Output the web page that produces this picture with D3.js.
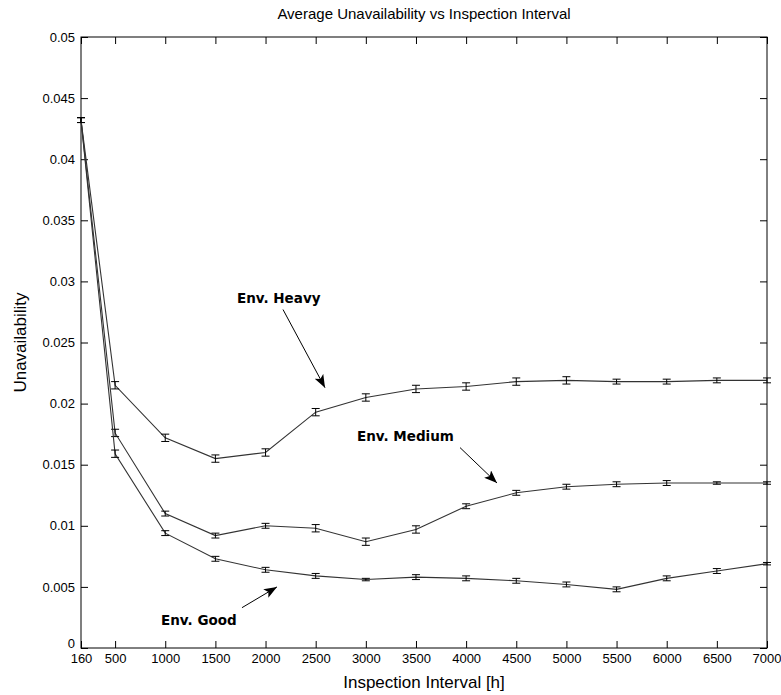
<!DOCTYPE html>
<html>
<head>
<meta charset="utf-8">
<script src="https://cdn.jsdelivr.net/npm/d3@7"></script>
<style>
  body { margin: 0; background: #fff; }
  text { font-family: "Liberation Sans", Arial, sans-serif; }
  .annot { font-family: "DejaVu Sans", Verdana, sans-serif; font-size: 13.5px; font-weight: bold; }
</style>
</head>
<body>
<svg id="chart"></svg>
<script>
let w = 781;
let h = 695;

// inspection intervals [h]
let intervals = [160, 500, 1000, 1500, 2000, 2500, 3000, 3500, 4000, 4500, 5000, 5500, 6000, 6500, 7000];

let heavy = [0.0432, 0.0215, 0.0172, 0.0155, 0.0160, 0.0193, 0.0205, 0.0212, 0.0214, 0.0218, 0.0219, 0.0218, 0.0218, 0.0219, 0.0219];
let heavyErr = [0.0002, 0.0003, 0.0003, 0.0003, 0.0003, 0.0003, 0.0003, 0.0003, 0.0003, 0.0003, 0.0003, 0.0002, 0.0002, 0.0002, 0.0002];

let medium = [0.0432, 0.0176, 0.0110, 0.0092, 0.0100, 0.0098, 0.0087, 0.0097, 0.0116, 0.0127, 0.0132, 0.0134, 0.0135, 0.0135, 0.0135];
let mediumErr = [0.0002, 0.0003, 0.0002, 0.0002, 0.0002, 0.0003, 0.0003, 0.0003, 0.0002, 0.0002, 0.0002, 0.0002, 0.0002, 0.0001, 0.0001];

let good = [0.0432, 0.0159, 0.0094, 0.0073, 0.0064, 0.0059, 0.0056, 0.0058, 0.0057, 0.0055, 0.0052, 0.0048, 0.0057, 0.0063, 0.0069];
let goodErr = [0.0002, 0.0003, 0.0002, 0.0002, 0.0002, 0.0002, 0.0001, 0.0002, 0.0002, 0.0002, 0.0002, 0.0002, 0.0002, 0.0002, 0.0001];

let xTicks = [160, 500, 1000, 1500, 2000, 2500, 3000, 3500, 4000, 4500, 5000, 5500, 6000, 6500, 7000];
let yTicks = [0, 0.005, 0.01, 0.015, 0.02, 0.025, 0.03, 0.035, 0.04, 0.045, 0.05];
let yTickLabels = ["0", "0.005", "0.01", "0.015", "0.02", "0.025", "0.03", "0.035", "0.04", "0.045", "0.05"];

// annotation labels, placed in data coordinates
let annotations = [
  { label: "Env. Heavy", text: [1715, 0.0282], tail: [2174, 0.0277], tip: [2593, 0.0213] },
  { label: "Env. Medium", text: [2912, 0.0169], tail: [3939, 0.0164], tip: [4308, 0.0135] },
  { label: "Env. Good", text: [958, 0.0019], tail: [1765, 0.0033], tip: [2114, 0.0050] }
];

let mLeft = 81, mRight = 767, mTop = 37, mBottom = 648;

let svg = d3.select("#chart").attr("width", w).attr("height", h);

let x = d3.scaleLinear().domain([160, 7000]).range([mLeft, mRight]);
let y = d3.scaleLinear().domain([0, 0.05]).range([mBottom, mTop]);

// frame
svg.append("rect")
  .attr("x", mLeft).attr("y", mTop)
  .attr("width", mRight - mLeft).attr("height", mBottom - mTop)
  .attr("fill", "none").attr("stroke", "#000").attr("stroke-width", 1);

let axisStyle = function (sel) {
  sel.select(".domain").remove();
  sel.selectAll("line").attr("stroke", "#000");
  sel.selectAll("text").attr("fill", "#000").style("font-size", "13px");
};

let xAxis = svg.append("g")
  .attr("transform", "translate(0," + mBottom + ")")
  .call(d3.axisBottom(x).tickValues(xTicks).tickSize(-7).tickPadding(6).tickFormat(d3.format("d")))
  .call(axisStyle);
// last label sits against the right edge like the original
xAxis.selectAll(".tick text").filter(function (d) { return d === 7000; })
  .attr("text-anchor", "end").attr("dx", "14");

svg.append("g")
  .attr("transform", "translate(0," + mTop + ")")
  .call(d3.axisTop(x).tickValues(xTicks).tickSize(-7).tickFormat(""))
  .call(axisStyle);

svg.append("g")
  .attr("transform", "translate(" + mLeft + ",0)")
  .call(d3.axisLeft(y).tickValues(yTicks).tickSize(-7).tickPadding(6)
    .tickFormat(function (d, i) { return yTickLabels[i]; }))
  .call(axisStyle)
  .selectAll(".tick text").filter(function (d) { return d === 0; })
  .attr("dy", "-0.05em");

svg.append("g")
  .attr("transform", "translate(" + mRight + ",0)")
  .call(d3.axisRight(y).tickValues(yTicks).tickSize(-7).tickFormat(""))
  .call(axisStyle);

// series
let series = [
  { values: heavy, err: heavyErr },
  { values: medium, err: mediumErr },
  { values: good, err: goodErr }
];

let line = d3.line()
  .x(function (d) { return x(d.x); })
  .y(function (d) { return y(d.v); });

series.forEach(function (s) {
  let pts = intervals.map(function (t, i) { return { x: t, v: s.values[i], e: s.err[i] }; });

  svg.append("path")
    .datum(pts)
    .attr("d", line)
    .attr("fill", "none")
    .attr("stroke", "#333")
    .attr("stroke-width", 1.1);

  let bars = svg.append("g").selectAll("g")
    .data(pts)
    .enter()
    .append("g")
    .attr("stroke", "#000")
    .attr("stroke-width", 1);

  bars.append("line")
    .attr("x1", function (d) { return x(d.x); })
    .attr("x2", function (d) { return x(d.x); })
    .attr("y1", function (d) { return y(d.v - d.e); })
    .attr("y2", function (d) { return y(d.v + d.e); });
  bars.append("line")
    .attr("x1", function (d) { return x(d.x) - 4; })
    .attr("x2", function (d) { return x(d.x) + 4; })
    .attr("y1", function (d) { return y(d.v - d.e); })
    .attr("y2", function (d) { return y(d.v - d.e); });
  bars.append("line")
    .attr("x1", function (d) { return x(d.x) - 4; })
    .attr("x2", function (d) { return x(d.x) + 4; })
    .attr("y1", function (d) { return y(d.v + d.e); })
    .attr("y2", function (d) { return y(d.v + d.e); });
});

// arrows + labels
svg.append("defs").append("marker")
  .attr("id", "head")
  .attr("viewBox", "0 0 13 10")
  .attr("refX", 13).attr("refY", 5)
  .attr("markerWidth", 13).attr("markerHeight", 10)
  .attr("markerUnits", "userSpaceOnUse")
  .attr("orient", "auto")
  .append("path")
  .attr("d", "M0,0 L13,5 L0,10 L3,5 Z")
  .attr("fill", "#000");

annotations.forEach(function (a) {
  svg.append("line")
    .attr("x1", x(a.tail[0])).attr("y1", y(a.tail[1]))
    .attr("x2", x(a.tip[0])).attr("y2", y(a.tip[1]))
    .attr("stroke", "#000").attr("stroke-width", 1)
    .attr("marker-end", "url(#head)");
  svg.append("text")
    .attr("class", "annot")
    .attr("x", x(a.text[0])).attr("y", y(a.text[1]))
    .attr("fill", "#000")
    .text(a.label);
});

// titles
svg.append("text")
  .attr("x", (mLeft + mRight) / 2).attr("y", 19)
  .attr("text-anchor", "middle")
  .style("font-size", "15px")
  .text("Average Unavailability vs Inspection Interval");

svg.append("text")
  .attr("x", (mLeft + mRight) / 2).attr("y", 688)
  .attr("text-anchor", "middle")
  .style("font-size", "17px")
  .text("Inspection Interval [h]");

svg.append("text")
  .attr("transform", "translate(26," + (mTop + mBottom) / 2 + ") rotate(-90)")
  .attr("text-anchor", "middle")
  .style("font-size", "17px")
  .text("Unavailability");
</script>
</body>
</html>
